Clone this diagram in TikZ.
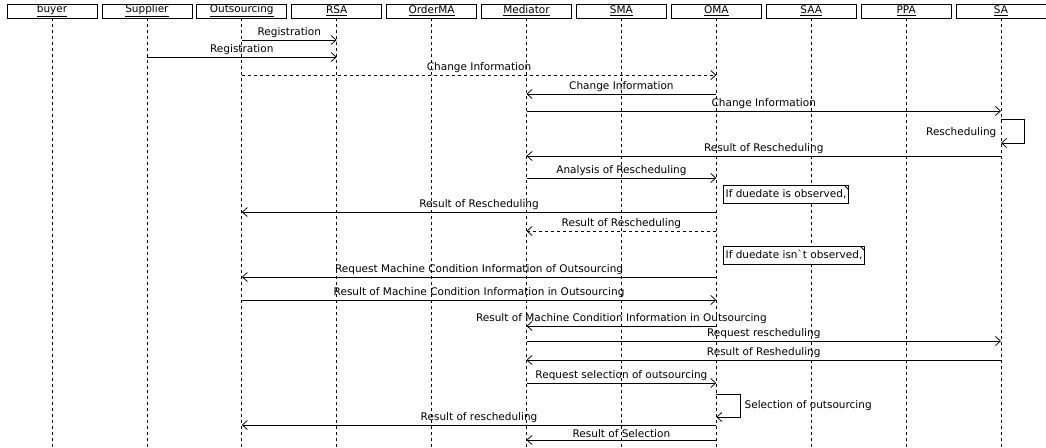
\documentclass[tikz,border=0pt]{standalone}
\usepackage{fontspec}
\setmainfont{DejaVu Sans}[Ligatures=TeXOff]
\usetikzlibrary{positioning}
\usetikzlibrary{arrows.meta}
\tikzset{
	obj node/.style={rectangle,draw,line width=0.8pt,minimum width=90pt,minimum height=14pt,
		inner sep=0pt,outer sep=0pt,font=\fontsize{10.5}{12}\selectfont},
	lifeline/.style={dash pattern=on 3pt off 3pt,line width=0.8pt},
	msg/.style={->,line width=0.75pt},
	lbl/.style={above,inner sep=1.5pt,font=\fontsize{10.5}{12}\selectfont},
	note node/.style={rectangle,draw,fill=white,line width=0.75pt,minimum height=18pt,
		inner sep=2pt,anchor=north west,font=\fontsize{10.5}{12}\selectfont,
		path picture={\draw ([xshift=-4pt]path picture bounding box.north east) -- ++(4pt,-4pt);}}
}

\begin{document}
\begin{tikzpicture}[x=1pt,y=-1pt,>={Straight Barb[length=5pt,width=9pt]},node distance=4.9pt]
	\useasboundingbox (0,0) rectangle (1046,447);
	% objects
	\node [obj node] (buyer) at (52,11) {\underline{buyer}};
	\node [obj node,right=of buyer] (supplier) {\underline{Supplier}};
	\node [obj node,right=of supplier] (outsourcing) {\underline{Outsourcing}};
	\node [obj node,right=of outsourcing] (rsa) {\underline{RSA}};
	\node [obj node,right=of rsa] (orderma) {\underline{OrderMA}};
	\node [obj node,right=of orderma] (mediator) {\underline{Mediator}};
	\node [obj node,right=of mediator] (sma) {\underline{SMA}};
	\node [obj node,right=of sma] (oma) {\underline{OMA}};
	\node [obj node,right=of oma] (saa) {\underline{SAA}};
	\node [obj node,right=of saa] (ppa) {\underline{PPA}};
	\node [obj node,right=of ppa] (sa) {\underline{SA}};
	% lifelines
	\draw [lifeline] (buyer.south) -- (buyer |- 0,447);
	\draw [lifeline] (supplier.south) -- (supplier |- 0,447);
	\draw [lifeline] (outsourcing.south) -- (outsourcing |- 0,447);
	\draw [lifeline] (rsa.south) -- (rsa |- 0,447);
	\draw [lifeline] (orderma.south) -- (orderma |- 0,447);
	\draw [lifeline] (mediator.south) -- (mediator |- 0,447);
	\draw [lifeline] (sma.south) -- (sma |- 0,447);
	\draw [lifeline] (oma.south) -- (oma |- 0,447);
	\draw [lifeline] (saa.south) -- (saa |- 0,447);
	\draw [lifeline] (ppa.south) -- (ppa |- 0,447);
	\draw [lifeline] (sa.south) -- (sa |- 0,447);
	% messages
	\draw [msg] (outsourcing |- 0,40) -- node [lbl] {Registration} (rsa |- 0,40);
	\draw [msg] (supplier |- 0,57) -- node [lbl] {Registration} (rsa |- 0,57);
	\draw [msg,dashed] (outsourcing |- 0,75) -- node [lbl] {Change Information} (oma |- 0,75);
	\draw [msg] (oma |- 0,94) -- node [lbl] {Change Information} (mediator |- 0,94);
	\draw [msg] (mediator |- 0,111) -- node [lbl] {Change Information} (sa |- 0,111);
	\draw [msg] (sa |- 0,119) -- ++(23,0) |- (sa |- 0,143);
	\node [lbl,anchor=east,xshift=-3pt] (resched) at (sa |- 0,133) {Rescheduling};
	\draw [msg] (sa |- 0,156) -- node [lbl] {Result of Rescheduling} (mediator |- 0,156);
	\draw [msg] (mediator |- 0,178) -- node [lbl] {Analysis of Rescheduling} (oma |- 0,178);
	\node [note node,xshift=7pt] (observed) at (oma |- 0,185) {If duedate is observed,};
	\draw [msg] (oma |- 0,212) -- node [lbl] {Result of Rescheduling} (outsourcing |- 0,212);
	\draw [msg,dashed] (oma |- 0,231) -- node [lbl] {Result of Rescheduling} (mediator |- 0,231);
	\node [note node,xshift=7pt] (notobserved) at (oma |- 0,246) {If duedate isn`t observed,};
	\draw [msg] (oma |- 0,277) -- node [lbl] {Request Machine Condition Information of Outsourcing} (outsourcing |- 0,277);
	\draw [msg] (outsourcing |- 0,300) -- node [lbl] {Result of Machine Condition Information in Outsourcing} (oma |- 0,300);
	\draw [msg] (oma |- 0,326) -- node [lbl] {Result of Machine Condition Information in Outsourcing} (mediator |- 0,326);
	\draw [msg] (mediator |- 0,341) -- node [lbl] {Request rescheduling} (sa |- 0,341);
	\draw [msg] (sa |- 0,360) -- node [lbl] {Result of Resheduling} (mediator |- 0,360);
	\draw [msg] (mediator |- 0,383) -- node [lbl] {Request selection of outsourcing} (oma |- 0,383);
	\draw [msg] (oma |- 0,394) -- ++(24,0) |- node [lbl,right,pos=0.25,inner sep=4pt] {Selection of outsourcing} (oma |- 0,417);
	\draw [msg] (oma |- 0,425) -- node [lbl] {Result of rescheduling} (outsourcing |- 0,425);
	\draw [msg] (oma |- 0,440) -- node [lbl] {Result of Selection} (mediator |- 0,440);
\end{tikzpicture}
\end{document}
